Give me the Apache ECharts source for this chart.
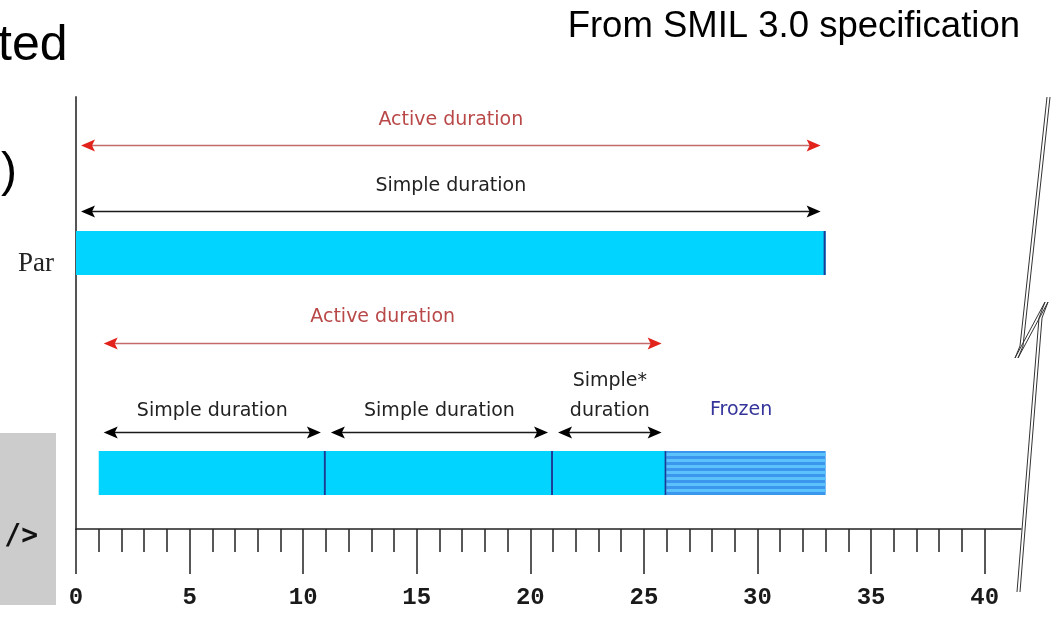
<!DOCTYPE html>
<html>
<head>
<meta charset="utf-8">
<script src="https://cdn.jsdelivr.net/npm/echarts@6.0.0/dist/echarts.min.js"></script>
<style>
  html, body { margin: 0; padding: 0; background: #fff; }
  #chart { width: 1054px; height: 617px; }
</style>
</head>
<body>
<div id="chart"></div>
<script>
// time axis ticks (seconds)
const majorTicks = [0, 5, 10, 15, 20, 25, 30, 35, 40];
const minorTicks = [1, 2, 3, 4, 6, 7, 8, 9, 11, 12, 13, 14, 16, 17, 18, 19, 21, 22, 23, 24,
  26, 27, 28, 29, 31, 32, 33, 34, 36, 37, 38, 39];

// duration arrows
const arrowLabels = ['Active duration', 'Simple duration', 'Active duration',
  'Simple duration', 'Simple duration', 'Simple*\nduration'];
const arrowStart = [0, 0, 1, 1, 11, 21];
const arrowEnd = [33, 33, 26, 11, 21, 26];
const arrowKind = ['active', 'simple', 'active', 'simple', 'simple', 'simple'];
const arrowLane = [0, 1, 2, 3, 3, 3];

// timeline bars
const barStart = [0, 1, 11, 21, 26];
const barEnd = [33, 11, 21, 26, 33];
const barRow = [0, 1, 1, 1, 1];
const barFrozen = [0, 0, 0, 0, 1];
const rowNames = ['Par', ''];
const frozenLabel = 'Frozen';

// layout of lanes in y units (not data)
const laneY = [10.67, 8.83, 5.17, 2.69];
const laneGap = [10, 10, 11, 6];
const rowY = [7.67, 1.56];
const barH = 1.22;

const dom = document.getElementById('chart');
const chart = echarts.init(dom, null, { renderer: 'canvas' });

function renderArrow(params, api) {
  const i = params.dataIndex;
  const lane = api.value(2);
  const y = laneY[lane];
  const a = api.coord([api.value(0), y]);
  const b = api.coord([api.value(1), y]);
  const x0 = a[0] + 5, x1 = b[0] - 5, py = Math.round(a[1]) + 0.5;
  const active = arrowKind[i] === 'active';
  const lineCol = active ? '#c46a6a' : '#1a1a1a';
  const headCol = active ? '#e2231c' : '#000';
  const txtCol = active ? '#b94848' : '#222';
  return {
    type: 'group',
    children: [
      { type: 'line', shape: { x1: x0 + 8, y1: py, x2: x1 - 8, y2: py }, style: { stroke: lineCol, lineWidth: 1.5 } },
      { type: 'polygon', shape: { points: [[x0, py], [x0 + 14, py - 6], [x0 + 11, py], [x0 + 14, py + 6]] }, style: { fill: headCol } },
      { type: 'polygon', shape: { points: [[x1, py], [x1 - 14, py - 6], [x1 - 11, py], [x1 - 14, py + 6]] }, style: { fill: headCol } },
      {
        type: 'text',
        style: {
          text: arrowLabels[i], x: (x0 + x1) / 2, y: py - laneGap[lane],
          align: 'center', verticalAlign: 'bottom', textAlign: 'center', textVerticalAlign: 'bottom',
          font: '19px "DejaVu Sans"', lineHeight: 30, fill: txtCol
        }
      }
    ]
  };
}

function renderBar(params, api) {
  const i = params.dataIndex;
  const row = api.value(2);
  const frozen = api.value(3);
  const yc = rowY[row];
  const p0 = api.coord([api.value(0), yc + barH / 2]);
  const p1 = api.coord([api.value(1), yc - barH / 2]);
  const x = p0[0], y = Math.round(p0[1]), w = p1[0] - p0[0], h = Math.round(p1[1] - p0[1]);
  const children = [
    { type: 'rect', shape: { x: x, y: y, width: w, height: h }, style: { fill: frozen ? '#3b97ee' : '#00d4ff' } }
  ];
  if (frozen) {
    for (let yy = y + 2; yy < y + h - 1; yy += 6) {
      children.push({ type: 'rect', shape: { x: x, y: yy, width: w, height: 3 }, style: { fill: '#5cc2fb' } });
    }
    children.push({
      type: 'text',
      style: {
        text: frozenLabel, x: x + w / 2 - 5, y: y - 41,
        align: 'center', verticalAlign: 'middle', textAlign: 'center', textVerticalAlign: 'middle',
        font: '19px "DejaVu Sans"', fill: '#34349a'
      }
    });
  } else {
    children.push({ type: 'line', shape: { x1: x + w - 1, y1: y, x2: x + w - 1, y2: y + h }, style: { stroke: '#1d3b95', lineWidth: 2 } });
  }
  if (rowNames[row] && barRow.indexOf(row) === i) {
    children.push({
      type: 'text',
      style: {
        text: rowNames[row], x: x - 22, y: y + h / 2 + 11,
        align: 'right', verticalAlign: 'middle', textAlign: 'right', textVerticalAlign: 'middle',
        font: '27px "Liberation Serif"', fill: '#222'
      }
    });
  }
  return { type: 'group', children: children };
}

const arrowData = arrowStart.map((s, i) => [s, arrowEnd[i], arrowLane[i]]);
const barData = barStart.map((s, i) => [s, barEnd[i], barRow[i], barFrozen[i]]);

function zig(dx) {
  return [[1047 + dx, 97], [1020 + dx, 346], [1015 + dx, 358], [1045 + dx, 302], [1039 + dx, 318], [1017 + dx, 592]];
}

const option = {
  animation: false,
  backgroundColor: '#fff',
  grid: { left: 76, right: 33, top: 97, bottom: 88 },
  xAxis: [
    {
      type: 'value', min: 0, max: 41.6, position: 'bottom',
      axisLine: { show: true, onZero: false, lineStyle: { color: '#222', width: 1.5 } },
      axisTick: { show: true, customValues: majorTicks, length: 45, lineStyle: { color: '#222', width: 1.5 } },
      axisLabel: {
        show: true, customValues: majorTicks, margin: 57,
        fontFamily: 'Liberation Mono', fontWeight: 'bold', fontSize: 24, color: '#1a1a1a'
      },
      splitLine: { show: false }
    },
    {
      type: 'value', min: 0, max: 41.6, position: 'bottom', offset: 0,
      axisLine: { show: false, onZero: false },
      axisTick: { show: true, customValues: minorTicks, length: 23, lineStyle: { color: '#222', width: 1.5 } },
      axisLabel: { show: false },
      splitLine: { show: false }
    }
  ],
  yAxis: {
    type: 'value', min: 0, max: 12,
    axisLine: { show: true, lineStyle: { color: '#555', width: 2 } },
    axisTick: { show: false },
    axisLabel: { show: false },
    splitLine: { show: false }
  },
  series: [
    { type: 'custom', name: 'bars', renderItem: renderBar, data: barData, clip: false, z: 2 },
    { type: 'custom', name: 'arrows', renderItem: renderArrow, data: arrowData, clip: false, z: 3 }
  ],
  graphic: [
    { type: 'rect', left: 0, top: 433, shape: { width: 56, height: 172 }, style: { fill: '#cccccc' }, z: 0 },
    {
      type: 'text', x: 38, y: 537,
      style: { text: '/>', font: 'bold 28px "DejaVu Sans Mono"', fill: '#111', align: 'right', verticalAlign: 'middle', textAlign: 'right', textVerticalAlign: 'middle' }
    },
    {
      type: 'text', x: -2, y: 46,
      style: { text: 'ted', font: '50px "Liberation Sans"', fill: '#000', align: 'left', verticalAlign: 'middle', textAlign: 'left', textVerticalAlign: 'middle' }
    },
    {
      type: 'text', x: 1, y: 173,
      style: { text: ')', font: '48px "Liberation Sans"', fill: '#000', align: 'left', verticalAlign: 'middle', textAlign: 'left', textVerticalAlign: 'middle' }
    },
    {
      type: 'text', x: 1020, y: 27,
      style: { text: 'From SMIL 3.0 specification', font: '36.5px "Liberation Sans"', fill: '#000', align: 'right', verticalAlign: 'middle', textAlign: 'right', textVerticalAlign: 'middle' }
    },
    { type: 'polyline', shape: { points: zig(0) }, style: { stroke: '#333', lineWidth: 1, fill: null } },
    { type: 'polyline', shape: { points: zig(3) }, style: { stroke: '#333', lineWidth: 1, fill: null } }
  ]
};

chart.setOption(option);
window.addEventListener('resize', () => chart.resize());
</script>
</body>
</html>
